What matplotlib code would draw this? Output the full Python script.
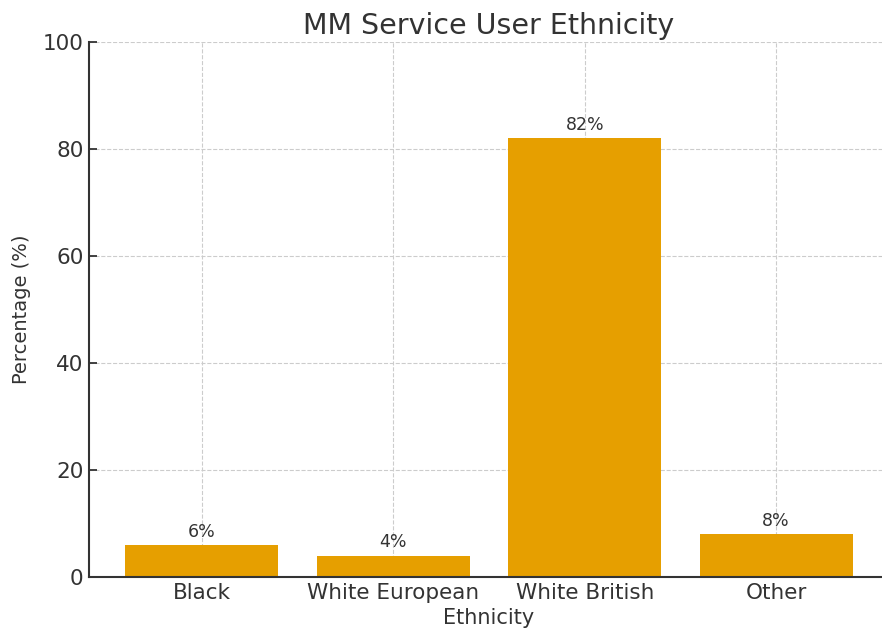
import matplotlib
matplotlib.use("Agg")
import matplotlib.pyplot as plt

categories = ["Black", "White European", "White British", "Other"]
values = [6, 4, 82, 8]
labels = ["6%", "4%", "82%", "8%"]

text_c = "#333333"
plt.rcParams['font.family'] = ['DejaVu Sans']

fig = plt.figure(figsize=(8.82, 6.32), dpi=100)
ax = fig.add_axes([89/882, 1 - 577/632, (889-89)/882, (577-42)/632])

x = list(range(len(categories)))
bars = ax.bar(x, values, width=0.8, color="#E69F00", zorder=2)
for b, lab in zip(bars, labels):
    ax.annotate(lab, (b.get_x() + b.get_width()/2, b.get_height()),
                xytext=(0, 3), textcoords="offset points", ha="center", va="bottom",
                fontsize=12.5, color=text_c)

ax.set_xticks(x)
ax.set_xticklabels(categories)
ax.set_ylim(0, 100)
ax.set_xlim(-0.59, 3.59)
ax.set_yticks([0, 20, 40, 60, 80, 100])
ax.tick_params(axis='both', labelsize=15.5, colors=text_c, length=6, width=1.3,
               direction='in', pad=4)
ax.grid(True, linestyle='--', color='#cccccc', linewidth=0.8, zorder=0)
ax.set_axisbelow(True)
for s in ['top', 'right']:
    ax.spines[s].set_visible(False)
for s in ['left', 'bottom']:
    ax.spines[s].set_color(text_c)
    ax.spines[s].set_linewidth(1.5)

ax.set_title("MM Service User Ethnicity", fontsize=20.5, color=text_c, pad=6)
ax.set_xlabel("Ethnicity", fontsize=15, color=text_c, labelpad=4)
ax.set_ylabel("Percentage (%)", fontsize=14, color=text_c, labelpad=8)

fig.savefig("out.png", dpi=100)
